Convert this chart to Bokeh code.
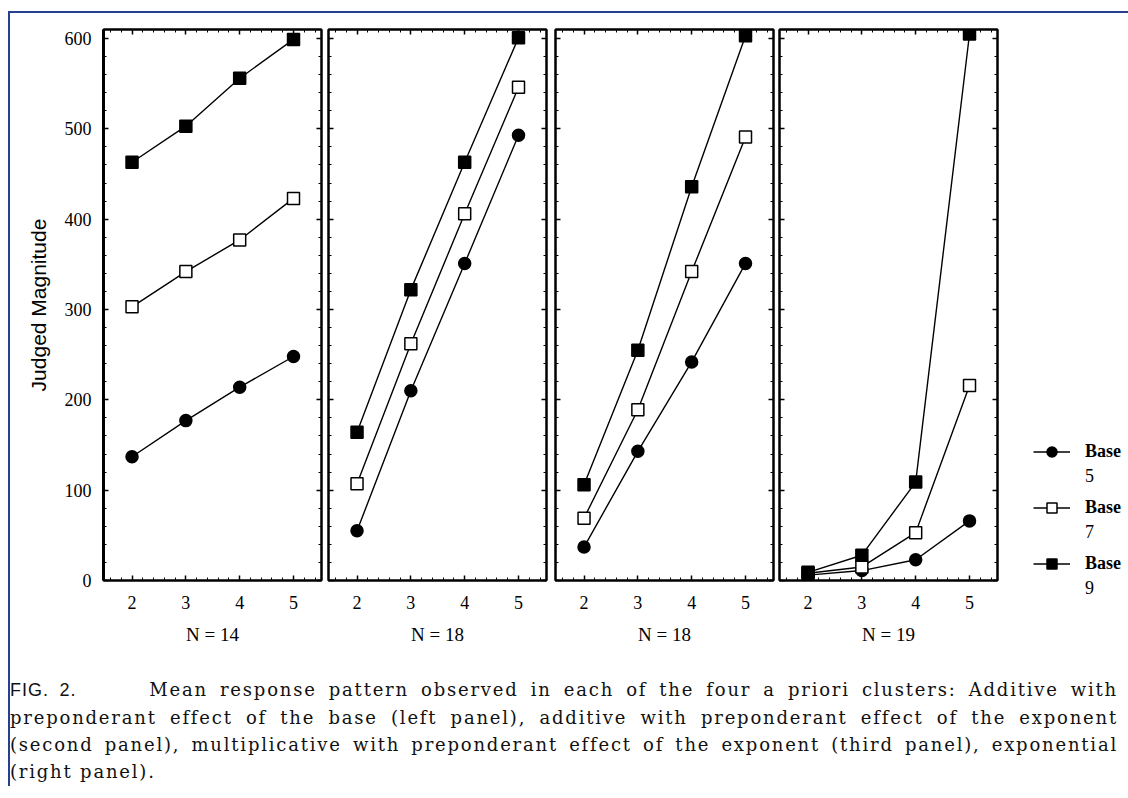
from bokeh.plotting import figure
from bokeh.models import (Range1d, SingleIntervalTicker, LinearAxis, Legend,
                          LegendItem, Div, CustomJSTickFormatter)
from bokeh.layouts import row, column
from bokeh.embed import file_html
from bokeh.resources import INLINE

# ---------------- data ----------------
exponents = [2, 3, 4, 5]
panel_labels = ["N = 14", "N = 18", "N = 18", "N = 19"]
base5 = [[137, 177, 214, 248], [55, 210, 351, 493], [37, 143, 242, 351], [6, 11, 23, 66]]
base7 = [[303, 342, 377, 423], [107, 262, 406, 546], [69, 189, 342, 491], [8, 15, 53, 216]]
base9 = [[463, 503, 556, 599], [164, 322, 463, 601], [106, 255, 436, 603], [9, 28, 109, 605]]
series_word = "Base"
series_bases = ["5", "7", "9"]
series_markers = ["circle", "square", "square"]
series_fills = ["black", "white", "black"]
y_axis_label = "Judged Magnitude"
caption_lines = [
    '<span style="font-family:\'Liberation Sans\';letter-spacing:1px">FIG. 2.</span>'
    "&nbsp;&nbsp;&nbsp;&nbsp;&nbsp; "
    "Mean response pattern observed in each of the four a priori clusters: Additive with",
    "preponderant effect of the base (left panel), additive with preponderant effect of the exponent",
    "(second panel), multiplicative with preponderant effect of the exponent (third panel), exponential",
    "(right panel).",
]

SERIF = "Liberation Serif"
H = 663
TOP = 16
BOTTOM = 96


def style_axis(ax, labelled):
    ax.axis_line_color = "black"
    ax.axis_line_width = 2
    ax.major_tick_in = 5
    ax.major_tick_out = 0
    ax.minor_tick_in = 3
    ax.minor_tick_out = 0
    ax.major_tick_line_color = "black"
    ax.major_tick_line_width = 1.5
    ax.minor_tick_line_color = "black"
    ax.minor_tick_line_width = 1
    if labelled:
        ax.major_label_text_font = SERIF
        ax.major_label_text_font_size = "18px"
        ax.major_label_text_color = "black"
    else:
        ax.formatter = CustomJSTickFormatter(code="return ''")
        ax.major_label_text_font_size = "6px"
        ax.major_label_standoff = 0


def add_series(p, i, **kw):
    out = []
    for vals, marker, fill in ((base5[i], series_markers[0], series_fills[0]),
                               (base7[i], series_markers[1], series_fills[1]),
                               (base9[i], series_markers[2], series_fills[2])):
        ln = p.line(exponents, vals, line_color="black", line_width=1.4, **kw)
        sc = p.scatter(exponents, vals, marker=marker, size=12,
                       fill_color=fill, line_color="black", line_width=1.5, **kw)
        out.append([ln, sc])
    return out


def make_panel(i, width, bl, br):
    p = figure(width=width, height=H, x_range=Range1d(1.47, 5.52), y_range=Range1d(0, 610),
               output_backend="svg", toolbar_location=None,
               x_axis_location=None, y_axis_location=None,
               min_border_left=bl, min_border_right=br,
               min_border_top=TOP, min_border_bottom=BOTTOM, margin=0)
    p.outline_line_color = "black"
    p.outline_line_width = 2
    p.background_fill_color = "white"
    p.border_fill_color = "white"
    p.xgrid.grid_line_color = None
    p.ygrid.grid_line_color = None

    xt = SingleIntervalTicker(interval=1, num_minor_ticks=5)
    yt = SingleIntervalTicker(interval=100, num_minor_ticks=5)

    below = LinearAxis(ticker=xt, axis_label=panel_labels[i])
    style_axis(below, True)
    below.major_label_standoff = 15
    below.axis_label_standoff = 12
    below.axis_label_text_font = SERIF
    below.axis_label_text_font_size = "19px"
    below.axis_label_text_font_style = "normal"
    below.axis_label_text_color = "black"
    p.add_layout(below, "below")

    above = LinearAxis(ticker=xt)
    style_axis(above, False)
    p.add_layout(above, "above")

    left = LinearAxis(ticker=yt)
    if i == 0:
        style_axis(left, True)
        left.major_label_standoff = 12
        left.axis_label = y_axis_label
        left.axis_label_standoff = 12
        left.axis_label_text_font = "Liberation Sans"
        left.axis_label_text_font_size = "21px"
        left.axis_label_text_font_style = "normal"
        left.axis_label_text_color = "black"
        left.axis_line_width = 3
    else:
        style_axis(left, False)
    p.add_layout(left, "left")

    right = LinearAxis(ticker=yt)
    style_axis(right, False)
    p.add_layout(right, "right")

    add_series(p, i)
    return p


p1 = make_panel(0, 314, 93, 3)
p2 = make_panel(1, 227, 4, 5)
p3 = make_panel(2, 225, 4, 3)
p4 = make_panel(3, 226, 3, 5)

# legend figure: key entries for the three series (renderers hidden)
pleg = figure(width=126, height=H, x_range=Range1d(1.47, 5.52), y_range=Range1d(0, 610),
              output_backend="svg", toolbar_location=None,
              x_axis_location=None, y_axis_location=None,
              min_border_left=0, min_border_right=0, min_border_top=0, min_border_bottom=0,
              margin=0, frame_align=False)
pleg.outline_line_color = None
pleg.xgrid.grid_line_color = None
pleg.ygrid.grid_line_color = None
leg_rends = add_series(pleg, 3, visible=False)

common = dict(orientation="vertical", padding=0, margin=0, border_line_color=None,
              background_fill_alpha=0, inactive_fill_alpha=0, label_text_font=SERIF,
              label_text_color="black", glyph_height=25, spacing=31)

legend_a = Legend(items=[LegendItem(label=series_word, renderers=leg_rends[k]) for k in range(3)],
                  location=(31, 100), glyph_width=37, label_standoff=15,
                  label_text_font_size="18px", label_text_font_style="bold", **common)
legend_b = Legend(items=[LegendItem(label=series_bases[k], renderers=[leg_rends[k][0]])
                         for k in range(3)],
                  location=(83, 75), glyph_width=0, label_standoff=0,
                  label_text_font_size="18px", label_text_font_style="normal", **common)
pleg.add_layout(legend_a)
pleg.add_layout(legend_b)

line_css = "white-space:nowrap;width:1108px;text-align:justify;text-align-last:justify;"
last_css = "white-space:nowrap;width:1108px;text-align:left;"
html = "".join(
    f'<div style="{last_css if k == len(caption_lines) - 1 else line_css}">{t}</div>'
    for k, t in enumerate(caption_lines))
cap = Div(text=html, width=1110, height=110, margin=0,
          styles={"font-family": "DejaVu Serif", "font-size": "18px", "line-height": "27px",
                  "letter-spacing": "1.8px", "color": "#111111"})

layout = column(row(p1, p2, p3, p4, pleg, spacing=0), cap, spacing=0,
                styles={"border-top": "2px solid #25408f", "border-left": "2px solid #25408f",
                        "margin-top": "11px", "margin-left": "8px"})

open("out.html", "w").write(file_html(layout, INLINE))
